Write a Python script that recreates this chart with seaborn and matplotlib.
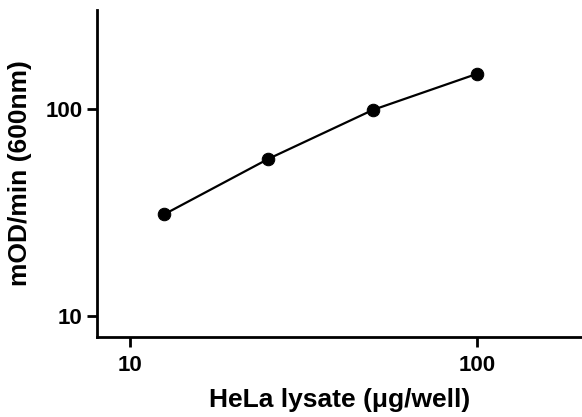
import numpy as np
import pandas as pd
import matplotlib
matplotlib.use("Agg")
import matplotlib.pyplot as plt
import matplotlib.ticker as mticker
import seaborn as sns

# Данные
lysate = [12.5, 25, 50, 100]          # мкг/лунку
rate = [31.0, 57.5, 99.0, 148.0]      # mOD/min (600nm)

x_ticks = [10, 100]
y_ticks = [10, 100]

df = pd.DataFrame({"lysate": lysate, "rate": rate})

sns.set_style("ticks")
plt.rcParams["font.family"] = ["Liberation Sans", "DejaVu Sans"]
plt.rcParams["font.weight"] = "bold"
plt.rcParams["text.color"] = "black"
plt.rcParams["axes.labelcolor"] = "black"
plt.rcParams["xtick.color"] = "black"
plt.rcParams["ytick.color"] = "black"

fig = plt.figure(figsize=(5.82, 4.17), dpi=100)
ax = fig.add_axes([0.166, 0.193, 0.834, 0.783])

sns.lineplot(data=df, x="lysate", y="rate", ax=ax, color="black",
             linewidth=1.6, marker="o", markersize=9,
             markeredgecolor="black", markerfacecolor="black")

ax.set_xscale("log")
ax.set_yscale("log")
ax.set_xlim(8, 200)
ax.set_ylim(8, 300)

ax.xaxis.set_major_locator(mticker.FixedLocator(x_ticks))
ax.yaxis.set_major_locator(mticker.FixedLocator(y_ticks))
ax.xaxis.set_minor_locator(mticker.NullLocator())
ax.yaxis.set_minor_locator(mticker.NullLocator())
ax.xaxis.set_major_formatter(mticker.FormatStrFormatter("%d"))
ax.yaxis.set_major_formatter(mticker.FormatStrFormatter("%d"))

for side in ["top", "right"]:
    ax.spines[side].set_visible(False)
for side in ["left", "bottom"]:
    ax.spines[side].set_linewidth(2)
    ax.spines[side].set_color("black")

ax.tick_params(axis="both", which="major", length=7, width=2,
               color="black", labelcolor="black", labelsize=16,
               direction="out")
ax.tick_params(axis="x", pad=6)
ax.tick_params(axis="y", pad=3)
for lbl in ax.get_xticklabels() + ax.get_yticklabels():
    lbl.set_fontweight("bold")

ax.set_xlabel("HeLa lysate (\u03bcg/well)", fontsize=19, fontweight="bold",
              labelpad=9, color="black")
ax.set_ylabel("mOD/min (600nm)", fontsize=19, fontweight="bold",
              labelpad=10, color="black")

fig.savefig("out.png", dpi=100)
